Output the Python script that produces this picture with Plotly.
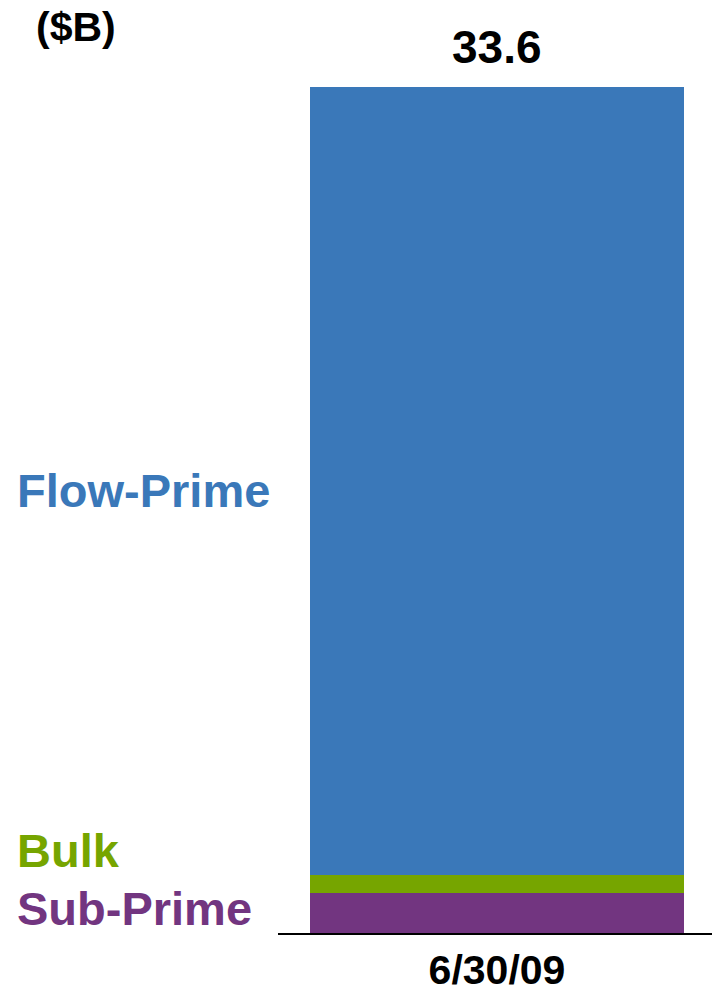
import plotly.graph_objects as go

categories = ["6/30/09"]
series_names = ["Sub-Prime", "Bulk", "Flow-Prime"]
sub_prime = [1.6]
bulk = [0.7]
flow_prime = [31.3]
total_label = "33.6"
unit_label = "($B)"

colors = {"Sub-Prime": "#723580", "Bulk": "#76A500", "Flow-Prime": "#3A78B9"}
values = {"Sub-Prime": sub_prime, "Bulk": bulk, "Flow-Prime": flow_prime}

FONT = "Liberation Sans, Arial, sans-serif"

fig = go.Figure()
for name in series_names:
    fig.add_trace(go.Bar(x=categories, y=values[name], name=name,
                         marker=dict(color=colors[name], line=dict(width=0)),
                         hoverinfo="skip"))

total = sub_prime[0] + bulk[0] + flow_prime[0]

ann = []
ann.append(dict(x=categories[0], y=total, xref="x", yref="y", text=total_label,
                showarrow=False, yanchor="bottom", yshift=12,
                font=dict(family=FONT, size=46, color="black", weight="bold")))
ann.append(dict(x=-0.563, y=1.0, xref="paper", yref="paper", text=unit_label,
                showarrow=False, xanchor="left", yanchor="top", yshift=-2,
                font=dict(family=FONT, size=41, color="black", weight="bold")))
lab_y = {"Flow-Prime": sub_prime[0] + bulk[0] + flow_prime[0] / 2,
         "Bulk": sub_prime[0] + bulk[0],
         "Sub-Prime": sub_prime[0] / 2}
lab_shift = {"Flow-Prime": -9, "Bulk": 25, "Sub-Prime": 4}
for name in series_names:
    ann.append(dict(x=-0.607, y=lab_y[name], xref="paper", yref="y", text=name,
                    showarrow=False, xanchor="left", yanchor="middle",
                    yshift=lab_shift[name],
                    font=dict(family=FONT, size=47, color=colors[name], weight="bold")))

fig.update_layout(
    barmode="stack",
    bargap=0.138,
    width=712, height=993,
    margin=dict(l=278, r=0, t=0, b=60),
    paper_bgcolor="white", plot_bgcolor="white",
    showlegend=False,
    annotations=ann,
    xaxis=dict(showline=True, linecolor="black", linewidth=2, ticks="",
               showgrid=False, zeroline=False, range=[-0.5046, 0.4954],
               automargin=False,
               tickfont=dict(family=FONT, size=41, color="black", weight="bold"),
               ticklabelstandoff=0),
    yaxis=dict(visible=False, range=[0, 37.06], showgrid=False, zeroline=False,
               automargin=False),
)

fig.write_html("out.html")
